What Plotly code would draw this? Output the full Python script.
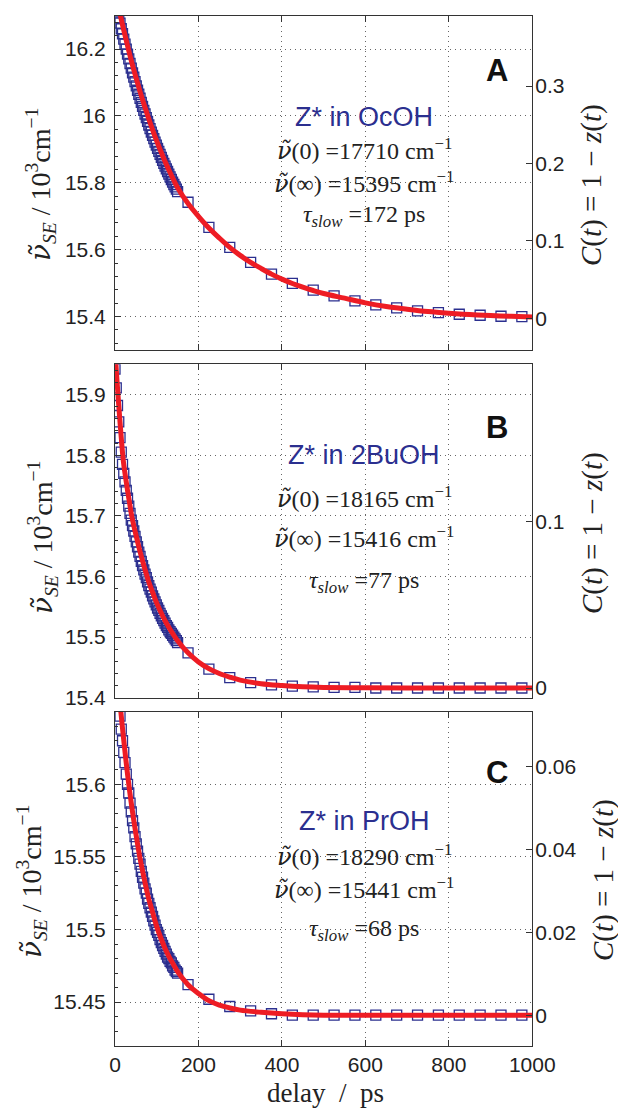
import plotly.graph_objects as go

# ---------------- data ----------------
solvents = ["OcOH", "2BuOH", "PrOH"]
letters = ["A", "B", "C"]
nu0 = [17710, 18165, 18290]      # cm^-1
nuinf = [15395, 15416, 15441]    # cm^-1
tau_slow = [172, 77, 68]         # ps

t_dense = [0, 3, 6, 9, 12, 15, 18, 21, 24, 27, 30, 33, 36, 39, 42, 45, 48, 51, 54, 57,
           60, 63, 66, 69, 72, 75, 78, 81, 84, 87, 90, 93, 96, 99, 102, 105, 108, 111,
           114, 117, 120, 123, 126, 129, 132, 135, 138, 141, 144, 147, 150]
dense_A = [16.345, 16.328, 16.311, 16.294, 16.278, 16.261, 16.246, 16.230, 16.215, 16.200,
           16.185, 16.171, 16.157, 16.143, 16.129, 16.116, 16.103, 16.090, 16.077, 16.065,
           16.053, 16.041, 16.029, 16.017, 16.006, 15.995, 15.984, 15.973, 15.962, 15.952,
           15.942, 15.932, 15.922, 15.913, 15.903, 15.894, 15.885, 15.876, 15.867, 15.858,
           15.850, 15.842, 15.834, 15.826, 15.818, 15.810, 15.802, 15.795, 15.788, 15.781, 15.774]
dense_B = [15.942, 15.911, 15.882, 15.855, 15.829, 15.805, 15.785, 15.770, 15.756, 15.742,
           15.729, 15.716, 15.704, 15.693, 15.684, 15.675, 15.666, 15.657, 15.649, 15.640,
           15.633, 15.625, 15.618, 15.611, 15.604, 15.598, 15.591, 15.585, 15.579, 15.574,
           15.568, 15.563, 15.558, 15.553, 15.548, 15.544, 15.539, 15.535, 15.531, 15.527,
           15.523, 15.519, 15.516, 15.512, 15.509, 15.506, 15.503, 15.500, 15.497, 15.494, 15.491]
dense_C = [15.686, 15.675, 15.666, 15.656, 15.647, 15.638, 15.630, 15.622, 15.615, 15.607,
           15.600, 15.594, 15.587, 15.581, 15.575, 15.570, 15.564, 15.559, 15.554, 15.549,
           15.545, 15.540, 15.536, 15.532, 15.528, 15.525, 15.521, 15.518, 15.515, 15.512,
           15.509, 15.506, 15.503, 15.500, 15.498, 15.496, 15.493, 15.491, 15.489, 15.487,
           15.485, 15.483, 15.481, 15.480, 15.478, 15.477, 15.475, 15.474, 15.472, 15.471, 15.470]

t_sparse = [175, 225, 275, 325, 375, 425, 475, 525, 575, 625, 675, 725, 775, 825, 875, 925, 975]
sparse_A = [15.742, 15.667, 15.607, 15.562, 15.527, 15.499, 15.479, 15.462, 15.447, 15.435,
            15.426, 15.417, 15.412, 15.407, 15.404, 15.401, 15.400]
sparse_B = [15.474, 15.447, 15.433, 15.425, 15.421, 15.419, 15.418, 15.417, 15.417, 15.416,
            15.416, 15.416, 15.416, 15.416, 15.416, 15.416, 15.416]
sparse_C = [15.462, 15.452, 15.447, 15.444, 15.442, 15.441, 15.441, 15.441, 15.441, 15.441,
            15.441, 15.441, 15.441, 15.441, 15.441, 15.441, 15.441]

fit_t_A = [5, 10, 20, 30, 40, 50, 60, 70, 80, 90, 100, 110, 120, 130, 140, 150, 175, 200, 225,
           250, 275, 300, 325, 350, 375, 400, 425, 450, 475, 500, 550, 600, 650, 700, 750, 800,
           850, 900, 950, 1000]
fit_A = [16.345, 16.316, 16.262, 16.210, 16.161, 16.116, 16.073, 16.033, 15.995, 15.959,
         15.925, 15.894, 15.864, 15.836, 15.810, 15.785, 15.738, 15.700, 15.665, 15.635,
         15.607, 15.583, 15.562, 15.544, 15.527, 15.512, 15.499, 15.488, 15.478, 15.469,
         15.455, 15.441, 15.430, 15.422, 15.415, 15.410, 15.406, 15.403, 15.401, 15.399]
fit_t_B = [2, 4, 7, 10, 15, 20, 25, 30, 35, 40, 50, 60, 70, 80, 90, 100, 110, 120, 130, 140,
           150, 175, 200, 225, 250, 275, 300, 350, 400, 450, 500, 600, 700, 800, 900, 1000]
fit_B = [15.952, 15.931, 15.901, 15.873, 15.829, 15.790, 15.765, 15.742, 15.721, 15.700,
         15.669, 15.641, 15.616, 15.593, 15.574, 15.556, 15.541, 15.527, 15.515, 15.504,
         15.494, 15.474, 15.459, 15.448, 15.440, 15.434, 15.429, 15.423, 15.420, 15.418,
         15.417, 15.4164, 15.4161, 15.416, 15.416, 15.416]
fit_t_C = [10, 14, 20, 30, 40, 50, 60, 70, 80, 90, 100, 110, 120, 130, 140, 150, 175, 200,
           225, 250, 275, 300, 350, 400, 500, 600, 700, 800, 900, 1000]
fit_C = [15.662, 15.650, 15.633, 15.607, 15.585, 15.566, 15.549, 15.535, 15.522, 15.512,
         15.502, 15.494, 15.487, 15.481, 15.476, 15.471, 15.462, 15.456, 15.451, 15.448,
         15.446, 15.4445, 15.443, 15.442, 15.441, 15.441, 15.441, 15.441, 15.441, 15.441]

y_ranges = [[15.3, 16.3], [15.4, 15.95], [15.42, 15.65]]
left_tickvals = [[15.4, 15.6, 15.8, 16.0, 16.2], [15.4, 15.5, 15.6, 15.7, 15.8, 15.9],
                 [15.45, 15.5, 15.55, 15.6]]
left_ticktext = [["15.4", "15.6", "15.8", "16", "16.2"],
                 ["15.4", "15.5", "15.6", "15.7", "15.8", "15.9"],
                 ["15.45", "15.5", "15.55", "15.6"]]
left_minor = [0.04, 0.02, 0.01]
right_tickvals = [[0, 0.1, 0.2, 0.3], [0, 0.1], [0, 0.02, 0.04, 0.06]]
right_ticktext = [["0", "0.1", "0.2", "0.3"], ["0", "0.1"], ["0", "0.02", "0.04", "0.06"]]
x_tickvals = [0, 200, 400, 600, 800, 1000]
x_ticktext = ["0", "200", "400", "600", "800", "1000"]

dense = [dense_A, dense_B, dense_C]
sparse = [sparse_A, sparse_B, sparse_C]
fit_t = [fit_t_A, fit_t_B, fit_t_C]
fit = [fit_A, fit_B, fit_C]

# ---------------- style / layout ----------------
W, H = 618, 1109
BLUE = "#2b2f8f"
RED = "#ee1c24"
TXT = "#222222"
SANS = "Liberation Sans, Arial, sans-serif"
SERIF = "Liberation Serif, Times New Roman, serif"
NU = "<span style='font-family:DejaVu Serif'><i>ν̃</i></span>"

XL, XR = 115 / W, 532.3 / W
panel_px = [(15.7, 350.0), (364.3, 697.7), (711.7, 1045.7)]


def py(px):
    return 1 - px / H


# text positions (pixel centres)
text_y = [(117, 149, 182, 216), (455, 497, 537, 582), (821, 855, 888, 930)]
letter_y = [70, 427, 772]
ltitle_pos = [(41, 185), (42, 538), (31, 882)]
rtitle_pos = [(592, 185), (592, 533), (603, 880)]

fig = go.Figure()
layout = dict(width=W, height=H, margin=dict(l=0, r=0, t=0, b=0, autoexpand=False),
              paper_bgcolor="white", plot_bgcolor="white", showlegend=False)
annotations = []

tickfont = dict(family=SANS, size=21, color=TXT)
mk = dict(symbol="square-open", size=10, color=BLUE, line=dict(width=1.3, color=BLUE))

for i in range(3):
    xa = "x" if i == 0 else f"x{i + 1}"
    yl = "y" if i == 0 else f"y{2 * i + 1}"
    yr = f"y{2 * i + 2}"
    xkey = "xaxis" if i == 0 else f"xaxis{i + 1}"
    ylkey = "yaxis" if i == 0 else f"yaxis{2 * i + 1}"
    yrkey = f"yaxis{2 * i + 2}"
    top, bot = panel_px[i]
    dom = [py(bot), py(top)]

    fig.add_trace(go.Scatter(x=t_dense, y=dense[i], mode="markers", xaxis=xa, yaxis=yl,
                             marker=mk))
    fig.add_trace(go.Scatter(x=t_sparse, y=sparse[i], mode="markers", xaxis=xa, yaxis=yl,
                             marker=mk))
    fig.add_trace(go.Scatter(x=fit_t[i], y=fit[i], mode="lines", xaxis=xa, yaxis=yl,
                             line=dict(color=RED, width=5, shape="spline")))
    fig.add_trace(go.Scatter(x=[500], y=[0], mode="markers", xaxis=xa, yaxis=yr,
                             marker=dict(opacity=0), hoverinfo="skip"))

    d0 = (nu0[i] - nuinf[i]) / 1000.0
    ninf = nuinf[i] / 1000.0
    rr = [(y_ranges[i][0] - ninf) / d0, (y_ranges[i][1] - ninf) / d0]

    layout[xkey] = dict(domain=[XL, XR], anchor=yl, range=[0, 1000], automargin=False,
                        tickmode="array", tickvals=x_tickvals, ticktext=x_ticktext,
                        showticklabels=(i == 2), ticks="inside", ticklen=6,
                        tickcolor="#333", showline=True, linecolor="#333", linewidth=1,
                        mirror="ticks", showgrid=True, gridcolor="#666", gridwidth=1,
                        griddash="1px,4px", zeroline=False, tickfont=tickfont)
    layout[ylkey] = dict(domain=dom, anchor=xa, range=y_ranges[i], automargin=False,
                         tickmode="array", tickvals=left_tickvals[i],
                         ticktext=left_ticktext[i], ticks="inside", ticklen=6,
                         tickcolor="#333", showline=True, linecolor="#333", linewidth=1,
                         mirror=True, showgrid=True, gridcolor="#666", gridwidth=1,
                         griddash="1px,4px", zeroline=False, tickfont=tickfont,
                         ticklabelstandoff=4,
                         minor=dict(tickmode="linear", tick0=left_tickvals[i][0],
                                    dtick=left_minor[i], ticks="inside", ticklen=3,
                                    tickcolor="#333", showgrid=False))
    layout[yrkey] = dict(overlaying=yl, side="right", anchor=xa, range=rr, automargin=False,
                         tickmode="array", tickvals=right_tickvals[i],
                         ticktext=right_ticktext[i], ticks="inside", ticklen=6,
                         tickcolor="#333", showline=False, showgrid=False,
                         zeroline=False, tickfont=tickfont, ticklabelstandoff=2)

    cx = 364 / W
    ty = text_y[i]
    annotations.append(dict(text=f"Z* in {solvents[i]}", x=cx, y=py(ty[0]), xref="paper",
                            yref="paper", showarrow=False, xanchor="center", yanchor="middle",
                            font=dict(family=SANS, size=27, color=BLUE)))
    annotations.append(dict(text=f"{NU}(0) ={nu0[i]} cm<sup>−1</sup>", x=cx,
                            y=py(ty[1]), xref="paper", yref="paper", showarrow=False,
                            xanchor="center", yanchor="middle",
                            font=dict(family=SERIF, size=24, color=TXT)))
    annotations.append(dict(text=f"{NU}(∞) ={nuinf[i]} cm<sup>−1</sup>", x=cx,
                            y=py(ty[2]), xref="paper", yref="paper", showarrow=False,
                            xanchor="center", yanchor="middle",
                            font=dict(family=SERIF, size=24, color=TXT)))
    annotations.append(dict(text=f"<i>τ<sub>slow</sub></i> ={tau_slow[i]} ps", x=cx,
                            y=py(ty[3]), xref="paper", yref="paper", showarrow=False,
                            xanchor="center", yanchor="middle",
                            font=dict(family=SERIF, size=24, color=TXT)))
    annotations.append(dict(text=f"<b>{letters[i]}</b>", x=497 / W, y=py(letter_y[i]),
                            xref="paper", yref="paper", showarrow=False,
                            xanchor="center", yanchor="middle",
                            font=dict(family=SANS, size=31, color="#111")))
    lx, lyy = ltitle_pos[i]
    annotations.append(dict(text=f"{NU}<i><sub>SE</sub></i> / 10<sup>3</sup>cm<sup>−1</sup>",
                            x=lx / W, y=py(lyy), xref="paper", yref="paper",
                            showarrow=False, textangle=-90, xanchor="center",
                            yanchor="middle", font=dict(family=SERIF, size=28, color=TXT)))
    rx, ryy = rtitle_pos[i]
    annotations.append(dict(text="<i>C</i>(<i>t</i>) = 1 − <i>z</i>(<i>t</i>)",
                            x=rx / W, y=py(ryy), xref="paper", yref="paper",
                            showarrow=False, textangle=-90, xanchor="center",
                            yanchor="middle", font=dict(family=SERIF, size=29, color=TXT)))

annotations.append(dict(text="delay  /  ps", x=325 / W, y=py(1093), xref="paper",
                        yref="paper", showarrow=False, xanchor="center", yanchor="middle",
                        font=dict(family=SERIF, size=27, color=TXT)))

layout["annotations"] = annotations
fig.update_layout(**layout)
fig.write_html("out.html")
